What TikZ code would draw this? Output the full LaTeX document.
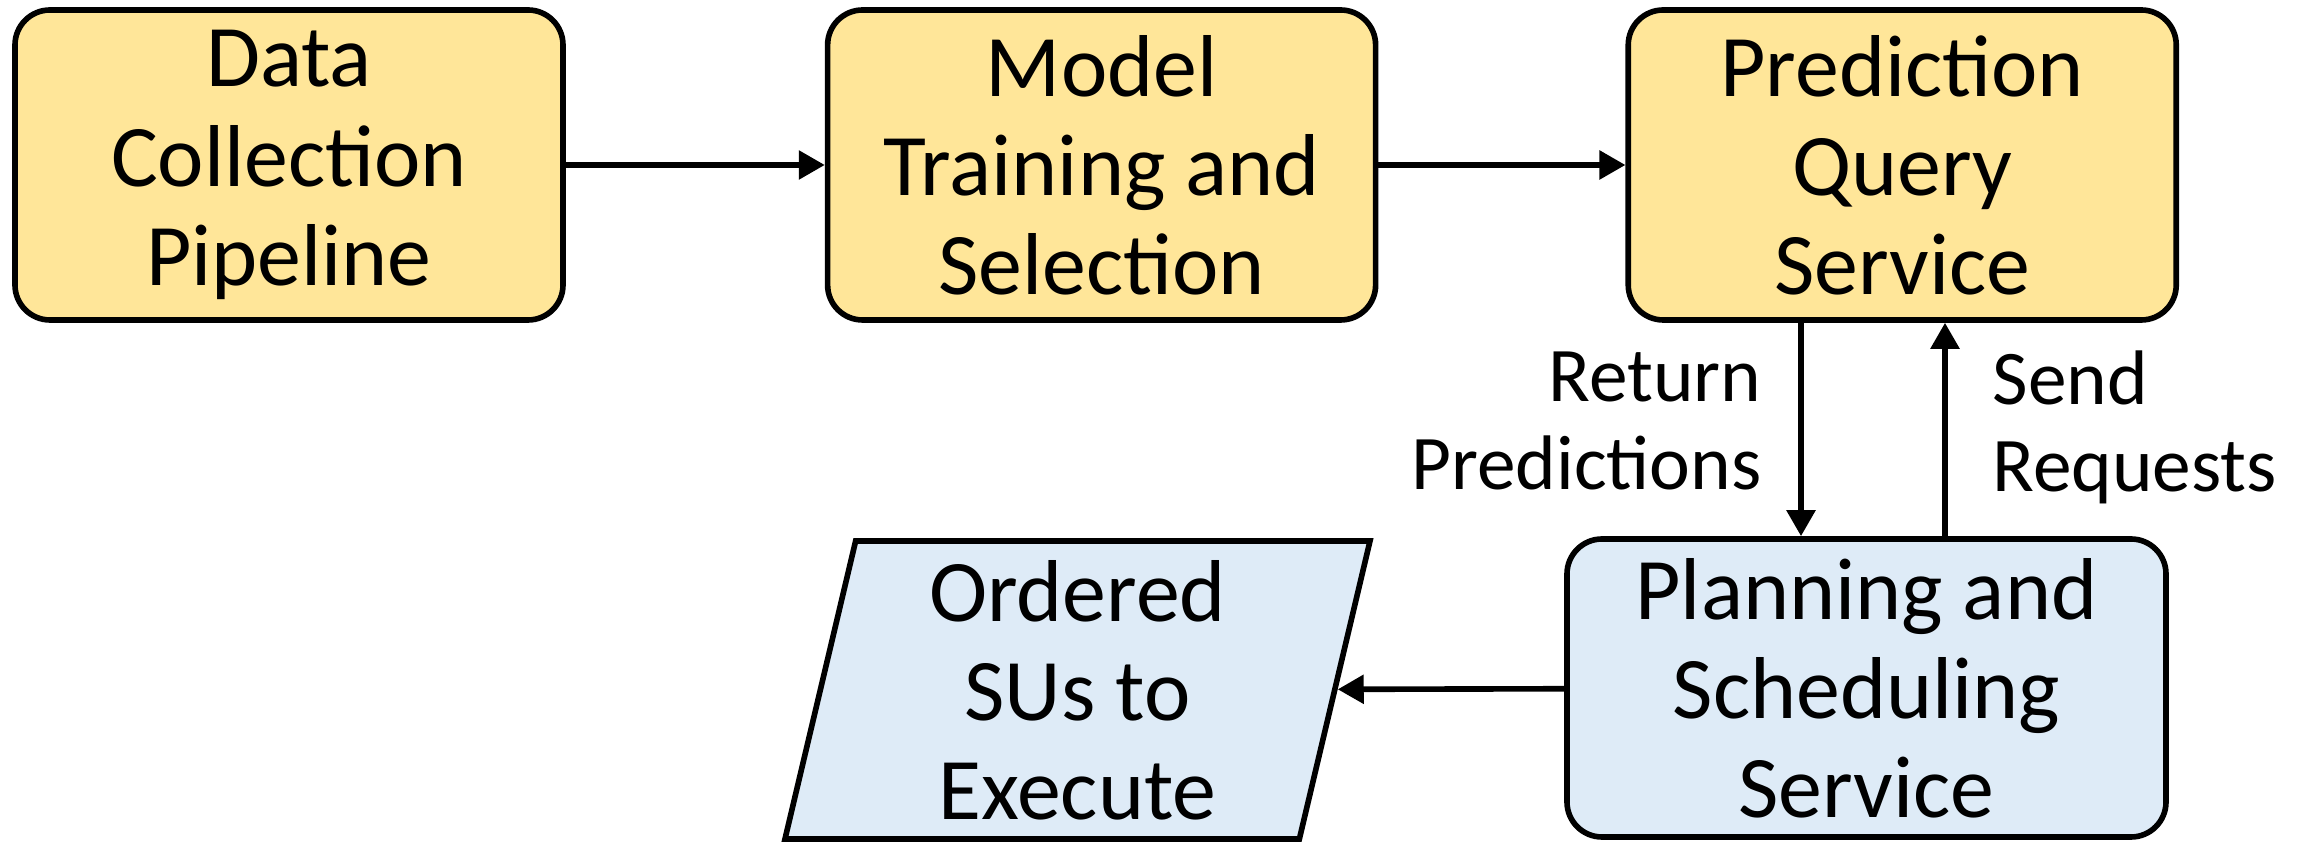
\documentclass[tikz,border=0pt]{standalone}
\usepackage{fontspec}
\setmainfont{Carlito}
\usepackage{xcolor}
\usetikzlibrary{arrows.meta,positioning,shapes.geometric}

\definecolor{stagefill}{HTML}{FFE699}
\definecolor{planfill}{HTML}{DEEBF7}

\begin{document}
\begin{tikzpicture}[every node/.style={font=\fontsize{25}{28.2}\selectfont}, box/.style={draw, line width=1.6pt, rounded corners=0.35cm, align=center, minimum width=5.48cm, minimum height=3.1cm, fill=stagefill}, arr/.style={line width=1.6pt, -{Triangle[length=0.26cm,width=0.28cm]}}, lbl/.style={font=\fontsize{22}{25}\selectfont, align=left}]
\useasboundingbox (0,0) rectangle (23.17,-8.44);
% top row: the model pipeline
\node[box] (data) at (2.89,-1.65) {Data\\Collection\\Pipeline};
\node[box, right=2.59cm of data] (model) {Model\\Training and\\Selection};
\node[box, right=2.47cm of model] (pred) {Prediction\\Query\\Service};
% bottom row
\node[box, fill=planfill, minimum width=5.99cm, minimum height=2.98cm] (plan) at (18.665,-6.88) {Planning and\\Scheduling\\Service};
\node[draw, line width=1.6pt, fill=planfill, trapezium, trapezium left angle=76, trapezium right angle=104, trapezium stretches body, minimum width=5.85cm, minimum height=2.98cm, align=center] (ordered) at (10.775,-6.9) {Ordered\\SUs to\\Execute};
\coordinate (down) at (18.01,0);
\coordinate (up) at (19.45,0);
\draw[arr] (data) -- (model);
\draw[arr] (model) -- (pred);
\draw[arr] (pred.south -| down) -- node[lbl, pos=0.46, left=0.25cm, align=right] (ret) {Return\\Predictions} (plan.north -| down);
\draw[arr] (plan.north -| up) -- node[lbl, pos=0.51, right=0.33cm] (send) {Send\\Requests} (pred.south -| up);
\draw[arr] (plan) -- (ordered);
\end{tikzpicture}
\end{document}
